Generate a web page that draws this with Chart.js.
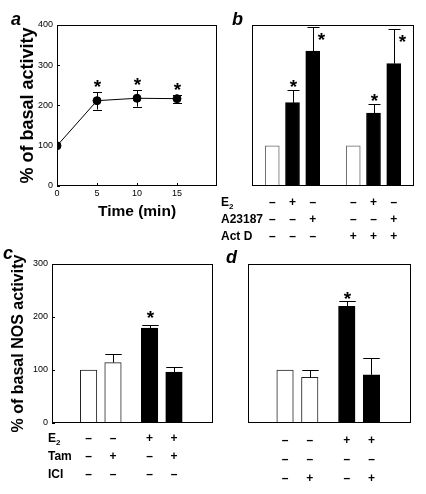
<!DOCTYPE html>
<html lang="en">
<head>
<meta charset="utf-8">
<title>NOS activity</title>
<script src="https://cdn.jsdelivr.net/npm/chart.js@4.4.1/dist/chart.umd.min.js"></script>
<style>
  html, body { margin: 0; padding: 0; background: #fff; }
  #fig { position: relative; width: 426px; height: 494px; overflow: hidden; }
  #fig canvas { position: absolute; }
  .lbl { position: absolute; font: italic bold 18px "Liberation Sans", Arial, sans-serif; line-height: 18px; }
</style>
</head>
<body>
<div id="fig">
  <canvas id="cv-a" width="222" height="230" style="left:0;top:0"></canvas>
  <canvas id="cv-b" width="214" height="250" style="left:212px;top:0"></canvas>
  <canvas id="cv-c" width="222" height="254" style="left:0;top:240px"></canvas>
  <canvas id="cv-d" width="204" height="254" style="left:222px;top:240px"></canvas>
  <div class="lbl" style="left:11px;top:10px">a</div>
  <div class="lbl" style="left:232px;top:10px">b</div>
  <div class="lbl" style="left:3px;top:244px">c</div>
  <div class="lbl" style="left:226px;top:248px">d</div>
</div>
<script>
// ─── Données ────────────────────────────────────────────────────────────────

// a : cinétique
const timeMin   = [0, 5, 10, 15];
const timeAct   = [100, 212, 218, 217];
const timeErr   = [0, 22, 21, 10];
const timeSig   = [false, true, true, true];
const timeTicks = [0, 5, 10, 15];
const yTicksA   = [0, 100, 200, 300, 400];

// b : E2 / A23187 / actinomycine D
const bRows = ['E₂', 'A23187', 'Act D'];
const bE2   = ['–', '+', '–', '–', '+', '–'];
const bA23  = ['–', '–', '+', '–', '–', '+'];
const bActD = ['–', '–', '–', '+', '+', '+'];
const bAct  = [100, 207, 335, 100, 181, 304];
const bErr  = [0, 31, 60, 0, 23, 85];
const bSig  = [false, true, true, false, true, true];

// c : tamoxifène
const cRows = ['E₂', 'Tam', 'ICI'];
const cE2   = ['–', '–', '+', '+'];
const cTam  = ['–', '+', '–', '+'];
const cICI  = ['–', '–', '–', '–'];
const cAct  = [100, 114, 179, 96];
const cErr  = [0, 16, 6, 9];
const cSig  = [false, false, true, false];
const yTicksC = [0, 100, 200, 300];

// d : ICI 182,780
const dE2   = ['–', '–', '+', '+'];
const dTam  = ['–', '–', '–', '–'];
const dICI  = ['–', '+', '–', '+'];
const dAct  = [100, 86, 220, 91];
const dErr  = [0, 14, 10, 31];
const dSig  = [false, false, true, false];

// ─── Rendu ──────────────────────────────────────────────────────────────────

const FONT = '"Liberation Sans", Arial, Helvetica, sans-serif';
Chart.defaults.font.family = FONT;
Chart.defaults.color = '#000';
Chart.defaults.animation = false;

// barres d'erreur, asterisques, cadre et tableau des conditions
const panelPlugin = {
  id: 'panel',
  afterDatasetsDraw(chart, args, o) {
    const ctx = chart.ctx, ca = chart.chartArea;
    const ys = chart.scales.y;
    const meta = chart.getDatasetMeta(0);
    ctx.save();
    ctx.strokeStyle = '#000';
    ctx.fillStyle = '#000';
    ctx.lineWidth = 1;

    meta.data.forEach((el, i) => {
      const v = o.values[i], e = o.errs[i];
      const x = Math.round(el.x) + 0.5;
      const top = Math.round(ys.getPixelForValue(v + e)) + 0.5;
      if (e > 0) {
        const from = ys.getPixelForValue(o.both ? v - e : v);
        ctx.beginPath();
        ctx.moveTo(x, from); ctx.lineTo(x, top);
        ctx.moveTo(x - o.cap / 2, top); ctx.lineTo(x + o.cap / 2, top);
        if (o.both) {
          const b = Math.round(from) + 0.5;
          ctx.moveTo(x - o.cap / 2, b); ctx.lineTo(x + o.cap / 2, b);
        }
        ctx.stroke();
      }
      if (o.sig[i]) {
        const size = 19;
        ctx.font = `bold ${size}px ${FONT}`;
        ctx.textAlign = 'center';
        ctx.textBaseline = 'alphabetic';
        let sx = x, sy = top - o.starGap;
        if (top - ca.top < 14) { sx = x + o.cap / 2 + 2; sy = top + 8; }
        ctx.fillText('*', sx, sy + 0.57 * size);
      }
    });

    // cadre
    const l = Math.round(ca.left) + 0.5, t = Math.round(ca.top) + 0.5;
    const r = Math.round(ca.right) - 0.5, bt = Math.round(ca.bottom) - 0.5;
    ctx.strokeRect(l, t, r - l, bt - t);

    // tableau des conditions (+/–)
    if (o.cells) {
      ctx.font = `bold 12px ${FONT}`;
      ctx.textBaseline = 'middle';
      o.cells.forEach((row, k) => {
        const y = ca.bottom + o.rowY0 + k * o.rowDy;
        if (o.rows) {
          const name = o.rows[k];
          ctx.textAlign = 'left';
          const nx = ca.left + o.nameX;
          if (name.includes('₂')) {
            const base = name.replace('₂', '');
            ctx.fillText(base, nx, y);
            const w = ctx.measureText(base).width;
            ctx.font = `bold 8px ${FONT}`;
            ctx.fillText('2', nx + w, y + 4);
            ctx.font = `bold 12px ${FONT}`;
          } else {
            ctx.fillText(name, nx, y);
          }
        }
        ctx.textAlign = 'center';
        row.forEach((s, i) => ctx.fillText(s, meta.data[i].x, y));
      });
    }
    ctx.restore();
  }
};

const fixedWidth  = w => s => { s.width = w; };
const fixedHeight = h => s => { s.height = h; };
const useTicks    = arr => s => { s.ticks = arr.map(v => ({ value: v })); };

// ─── a ───
new Chart(document.getElementById('cv-a'), {
  type: 'line',
  data: {
    datasets: [{
      data: timeMin.map((x, i) => ({ x, y: timeAct[i] })),
      borderColor: '#000', borderWidth: 1, tension: 0,
      pointRadius: 4, pointBackgroundColor: '#000', pointBorderColor: '#000',
    }],
  },
  options: {
    responsive: false,
    events: [],
    layout: { padding: { top: 25, right: 3, left: 0, bottom: 0 } },
    plugins: {
      legend: { display: false }, tooltip: { enabled: false },
      panel: { values: timeAct, errs: timeErr, sig: timeSig, both: true, cap: 9, starGap: 10 },
    },
    scales: {
      x: {
        type: 'linear', min: 0, max: 20, offset: false,
        afterBuildTicks: useTicks(timeTicks), afterFit: fixedHeight(44),
        grid: { drawOnChartArea: false, tickLength: -3, color: '#000' },
        border: { display: false },
        ticks: { font: { size: 9 }, padding: 5, maxRotation: 0 },
        title: { display: true, text: 'Time (min)', font: { size: 15.5, weight: 'bold' }, padding: { top: 0, bottom: 9 } },
      },
      y: {
        min: 0, max: 400,
        afterBuildTicks: useTicks(yTicksA), afterFit: fixedWidth(57),
        grid: { drawOnChartArea: false, tickLength: -3, color: '#000' },
        border: { display: false },
        ticks: { font: { size: 9 }, padding: 7 },
        title: { display: true, text: '% of basal activity', font: { size: 18, weight: 'bold' }, padding: { top: 17, bottom: 0 } },
      },
    },
  },
  plugins: [panelPlugin],
});

// ─── histogrammes b, c, d ───
function barPanel(id, p) {
  const showY = !!p.yTicks;
  return new Chart(document.getElementById(id), {
    type: 'bar',
    data: {
      datasets: [{
        data: p.values.map((y, i) => ({ x: p.slots[i], y })),
        backgroundColor: p.filled.map(f => f ? '#000' : '#fff'),
        borderColor: p.filled.map(f => f ? '#000' : p.edge),
        borderWidth: 1,
        barThickness: p.thickness,
      }],
    },
    options: {
      responsive: false,
      events: [],
      layout: { padding: p.pad },
      plugins: {
        legend: { display: false }, tooltip: { enabled: false },
        panel: {
          values: p.values, errs: p.errs, sig: p.sig, both: false, cap: p.cap, starGap: p.starGap,
          rows: p.rows, cells: p.cells, nameX: p.nameX, rowY0: p.rowY0, rowDy: p.rowDy,
        },
      },
      scales: {
        x: { type: 'linear', min: 0, max: p.xMax, offset: false, display: false },
        y: showY ? {
          min: 0, max: p.yMax,
          afterBuildTicks: useTicks(p.yTicks), afterFit: fixedWidth(p.yWidth),
          grid: { drawOnChartArea: false, tickLength: -3, color: '#000' },
          border: { display: false },
          ticks: { font: { size: 9 }, padding: 7 },
          title: { display: true, text: p.yTitle, font: { size: 16, weight: 'bold' }, padding: { top: 9, bottom: 0 } },
        } : { min: 0, max: p.yMax, display: false },
      },
    },
    plugins: [panelPlugin],
  });
}

barPanel('cv-b', {
  values: bAct, errs: bErr, sig: bSig,
  slots: [1, 2, 3, 5, 6, 7], xMax: 8, yMax: 400,
  filled: bAct.map((_, i) => bE2[i] === '+' || bA23[i] === '+'),
  edge: '#666', thickness: 14, cap: 12, starGap: 8.5,
  pad: { left: 40, right: 12, top: 25, bottom: 64 },
  rows: bRows, cells: [bE2, bA23, bActD], nameX: -31, rowY0: 17, rowDy: 17,
});

barPanel('cv-c', {
  values: cAct, errs: cErr, sig: cSig,
  slots: [3, 5, 8, 10], xMax: 13.2, yMax: 300,
  filled: cAct.map((_, i) => cE2[i] === '+'),
  edge: '#222', thickness: 16.5, cap: 16.5, starGap: 12.5,
  pad: { left: 0, right: 9, top: 24, bottom: 71 },
  yTicks: yTicksC, yWidth: 52, yTitle: '% of basal NOS activity',
  rows: cRows, cells: [cE2, cTam, cICI], nameX: -4, rowY0: 15.5, rowDy: 18,
});

barPanel('cv-d', {
  values: dAct, errs: dErr, sig: dSig,
  slots: [3, 5, 8, 10], xMax: 13.2, yMax: 300,
  filled: dAct.map((_, i) => dE2[i] === '+'),
  edge: '#222', thickness: 16.5, cap: 16.5, starGap: 7.5,
  pad: { left: 26, right: 15, top: 24, bottom: 71 },
  cells: [dE2, dTam, dICI], rowY0: 18, rowDy: 18.6,
});
</script>
</body>
</html>
